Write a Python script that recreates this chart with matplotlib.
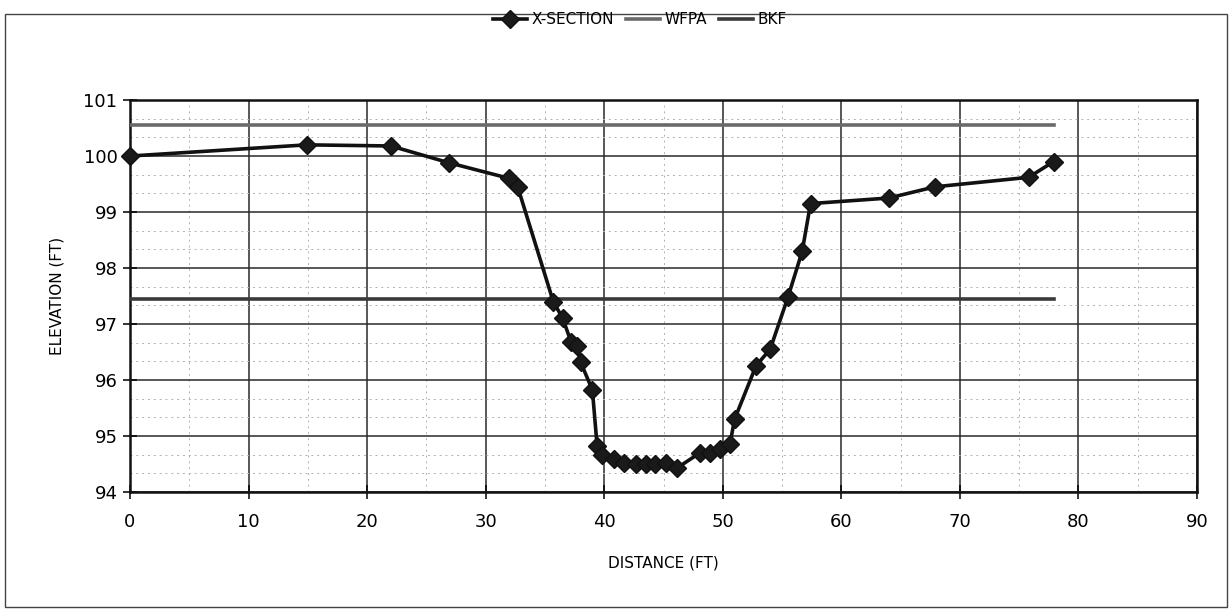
import matplotlib.pyplot as plt
from matplotlib.patches import Rectangle
from matplotlib.ticker import MultipleLocator

# cross-section survey points (distance ft, elevation ft)
distance = [0, 14.9, 22.0, 26.9, 32.0, 32.7, 35.7, 36.5, 37.2, 37.7, 38.0, 39.0,
            39.4, 39.85, 40.85, 41.7, 42.65, 43.5, 44.3, 45.2, 46.1,
            48.1, 48.95, 49.8, 50.6, 51.0, 52.8, 54.0, 55.5, 56.7, 57.4,
            64.0, 67.9, 75.8, 77.9]
elevation = [100.0, 100.2, 100.18, 99.88, 99.6, 99.45, 97.4, 97.1, 96.68, 96.6, 96.32, 95.82,
             94.82, 94.65, 94.58, 94.52, 94.5, 94.5, 94.5, 94.52, 94.42,
             94.7, 94.7, 94.76, 94.85, 95.3, 96.25, 96.55, 97.48, 98.3, 99.15,
             99.25, 99.45, 99.62, 99.9]

wfpa_level = 100.55
bkf_level = 97.45
line_x = [0, 77.9]

x_ticks = list(range(0, 91, 10))
y_ticks = list(range(94, 102))

fig = plt.figure(figsize=(12.31, 6.14), dpi=100)
ax = fig.add_axes([0.1056, 0.199, 0.8668, 0.638])

ax.plot(line_x, [wfpa_level] * 2, color='#6a6a6a', lw=2.6, label='WFPA', zorder=3)
ax.plot(line_x, [bkf_level] * 2, color='#3a3a3a', lw=2.6, label='BKF', zorder=3)
ax.plot(distance, elevation, color='#111111', lw=2.6, marker='D', markersize=9,
        markerfacecolor='#1a1a1a', markeredgecolor='#111111', label='X-SECTION',
        zorder=4, clip_on=False)

ax.set_xlim(0, 90)
ax.set_ylim(94, 101)
ax.set_xticks(x_ticks)
ax.set_yticks(y_ticks)
ax.xaxis.set_minor_locator(MultipleLocator(5))
ax.yaxis.set_minor_locator(MultipleLocator(1 / 3))
ax.grid(which='major', color='#2a2a2a', lw=1.1)
ax.grid(which='minor', color='#b0b0b0', lw=0.7, ls=(0, (2, 4)))
ax.tick_params(which='major', direction='inout', length=10, width=1.1,
               labelsize=13, pad=4)
ax.tick_params(axis='x', which='major', pad=10)
ax.tick_params(which='minor', length=0)
for s in ax.spines.values():
    s.set_linewidth(1.8)
    s.set_color('#111111')

ax.set_xlabel('DISTANCE (FT)', fontsize=11, labelpad=18)
ax.set_ylabel('ELEVATION (FT)', fontsize=11, labelpad=14)

h, l = ax.get_legend_handles_labels()
order = [2, 0, 1]
fig.legend([h[i] for i in order], [l[i] for i in order], loc='center',
           bbox_to_anchor=(0.52, 0.968), ncol=3, frameon=False, fontsize=11,
           handlelength=2.2, columnspacing=0.8, handletextpad=0.3)

fig.patches.append(Rectangle((0.004, 0.012), 0.993, 0.966, transform=fig.transFigure,
                             fill=False, edgecolor='#444444', lw=1.0))

fig.savefig('out.png', dpi=100)
